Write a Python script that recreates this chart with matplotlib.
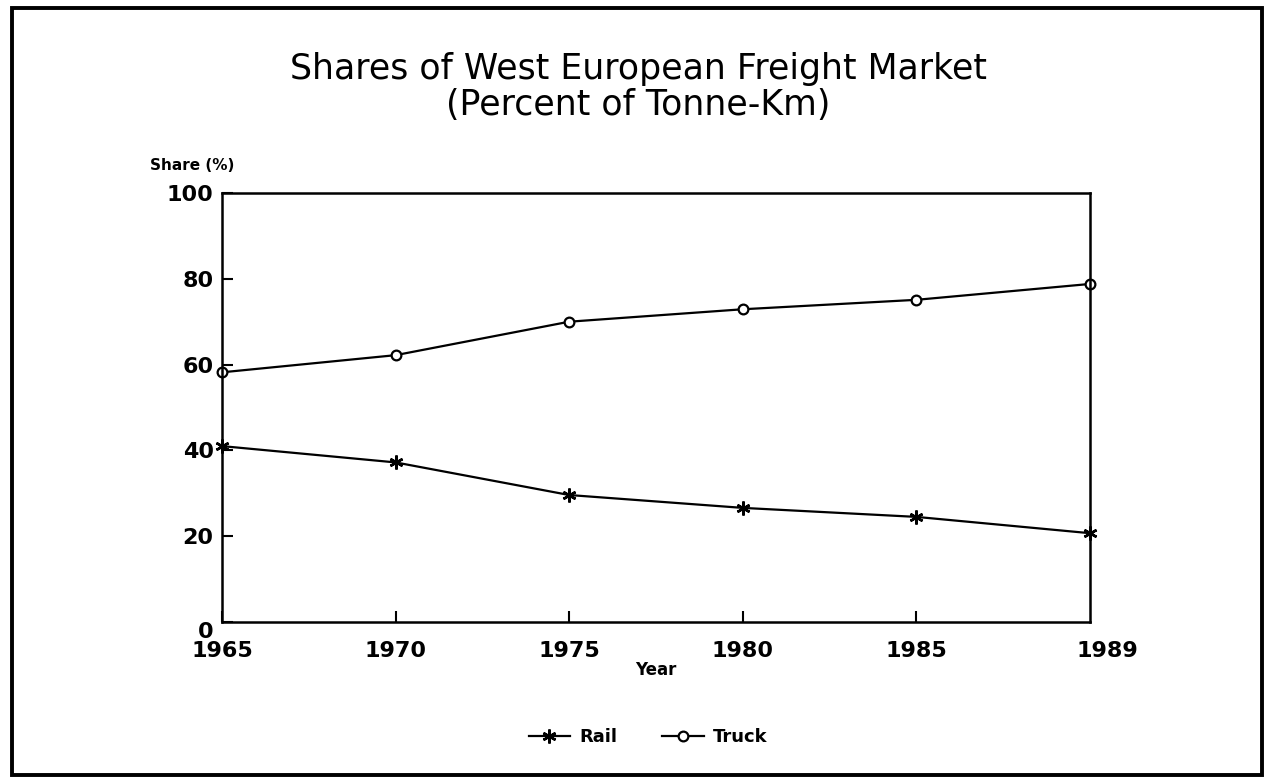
import matplotlib
matplotlib.use("Agg")
import matplotlib.pyplot as plt
from matplotlib.patches import Rectangle
import matplotlib.transforms as mtransforms

years = ["1965", "1970", "1975", "1980", "1985", "1989"]
rail = [41.0, 37.2, 29.6, 26.6, 24.5, 20.7]
truck = [58.2, 62.2, 70.0, 72.9, 75.1, 78.8]
yticks = [0, 20, 40, 60, 80, 100]

plt.rcParams['font.family'] = ['DejaVu Sans']

fig = plt.figure(figsize=(12.65, 7.78), dpi=100)
fig.patch.set_facecolor('white')
# outer frame
fig.patches.append(Rectangle((12/1265, 3/778), 1250/1265, 767/778, transform=fig.transFigure,
                             fill=False, edgecolor='black', linewidth=2.8))

ax = fig.add_axes([222/1265, 1 - 622/778, (1090 - 222)/1265, (622 - 193)/778])
x = list(range(len(years)))
ax.plot(x, rail, color='black', linewidth=1.6, marker=(6, 2, 0), markersize=10,
        markeredgewidth=1.8, label='Rail', clip_on=False)
ax.plot(x, truck, color='black', linewidth=1.6, marker='o', markersize=7,
        markerfacecolor='white', markeredgewidth=1.6, label='Truck', clip_on=False)

ax.set_xlim(0, len(years) - 1)
ax.set_ylim(0, 100)
ax.set_yticks(yticks)
ax.set_yticklabels([str(v) for v in yticks], fontsize=16, fontweight='bold')
ax.set_xticks(x[:-1])
ax.set_xticklabels(years[:-1], fontsize=16, fontweight='bold')
ax.tick_params(axis='both', direction='in', length=8, width=1.5)
ax.tick_params(axis='x', pad=14)
ax.tick_params(axis='y', pad=6)
# "0" label sits a little below the axis line
ax.get_yticklabels()[0].set_verticalalignment('top')
# last year label sits slightly to the right of the frame edge
off = mtransforms.ScaledTranslation(17/100, -14/72, fig.dpi_scale_trans)
ax.text(x[-1], 0, years[-1], transform=ax.transData + off, fontsize=16, fontweight='bold',
        ha='center', va='top')
for sp in ax.spines.values():
    sp.set_linewidth(1.8)

ax.set_xlabel('Year', fontsize=12, fontweight='bold', labelpad=0)
fig.text(150/1265, 1 - 165/778, 'Share (%)', fontsize=11, fontweight='bold', ha='left', va='center')

fig.text(638/1265, 1 - 69/778, 'Shares of West European Freight Market', fontsize=25,
         ha='center', va='center')
fig.text(638/1265, 1 - 105/778, '(Percent of Tonne-Km)', fontsize=25,
         ha='center', va='center')

leg = fig.legend(loc='center', bbox_to_anchor=(648/1265, 1 - 737/778), ncol=2, frameon=False,
                 prop={'size': 13, 'weight': 'bold'}, handlelength=2.3, columnspacing=2.5,
                 handletextpad=0.5)

fig.savefig('out.png', dpi=100)
